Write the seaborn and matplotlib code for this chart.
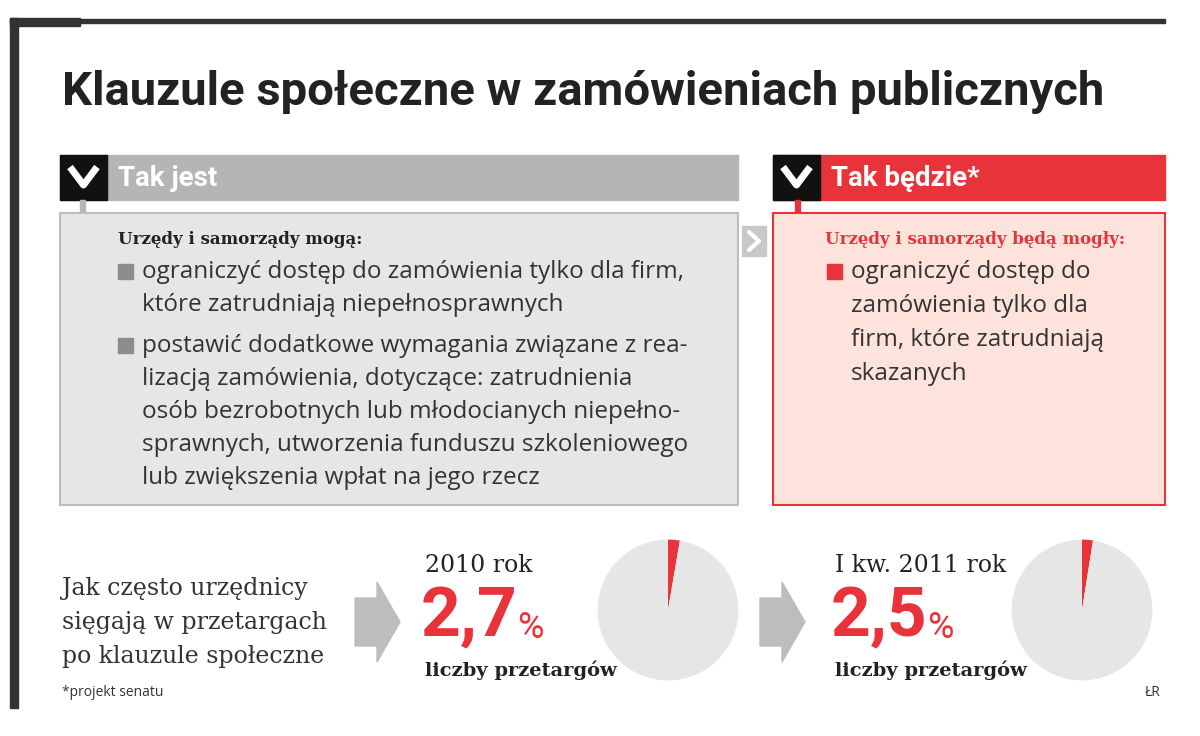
import matplotlib
matplotlib.use("Agg")
import matplotlib.pyplot as plt
import matplotlib.patches as mp
import seaborn as sns

sns.set_theme(style="white")

# data
title = "Klauzule społeczne w zamówieniach publicznych"
left_head = "Tak jest"
right_head = "Tak będzie*"
left_lead = "Urzędy i samorządy mogą:"
right_lead = "Urzędy i samorządy będą mogły:"
left_bullets = [
    ["ograniczyć dostęp do zamówienia tylko dla firm,",
     "które zatrudniają niepełnosprawnych"],
    ["postawić dodatkowe wymagania związane z rea-",
     "lizacją zamówienia, dotyczące: zatrudnienia",
     "osób bezrobotnych lub młodocianych niepełno-",
     "sprawnych, utworzenia funduszu szkoleniowego",
     "lub zwiększenia wpłat na jego rzecz"],
]
right_bullets = [["ograniczyć dostęp do", "zamówienia tylko dla",
                  "firm, które zatrudniają", "skazanych"]]
question = ["Jak często urzędnicy", "sięgają w przetargach", "po klauzule społeczne"]
periods = ["2010 rok", "I kw. 2011 rok"]
shares = [2.7, 2.5]
share_labels = ["2,7", "2,5"]

RED = "#e8333a"
GRAY = "#b5b5b5"
LIGHT = "#e6e6e6"
SANS = ["Liberation Sans Narrow", "Roboto", "DejaVu Sans"]
SERIF = ["DejaVu Serif", "Liberation Serif"]

fig = plt.figure(figsize=(12, 7.36), dpi=100)
ax = fig.add_axes([0, 0, 1, 1])
ax.set_xlim(0, 1200)
ax.set_ylim(736, 0)
ax.axis("off")

# frame
ax.add_patch(mp.Rectangle((10, 18), 8, 690, color="#333333"))
ax.add_patch(mp.Rectangle((10, 18), 70, 8, color="#333333"))
ax.add_patch(mp.Rectangle((10, 19), 1155, 4, color="#333333"))

ax.text(62, 92, title, fontsize=34, fontweight="bold", family=SANS,
        color="#222222", va="center")


def header(x0, x1, color, label):
    ax.add_patch(mp.Rectangle((x0, 155), x1 - x0, 45, color=color))
    ax.add_patch(mp.Rectangle((x0, 155), 47, 45, color="#111111"))
    ax.plot([x0 + 10, x0 + 23.5, x0 + 37], [167, 185, 167], color="white", lw=5,
            solid_capstyle="butt")
    ax.text(x0 + 58, 178, label, fontsize=20, fontweight="bold", color="white",
            family=SANS, va="center")


header(60, 738, GRAY, left_head)
header(773, 1165, RED, right_head)

ax.add_patch(mp.Rectangle((80, 200), 5, 13, color=GRAY))
ax.add_patch(mp.Rectangle((795, 200), 5, 13, color=RED))
ax.add_patch(mp.Rectangle((60, 213), 678, 292, facecolor=LIGHT, edgecolor="#bdbdbd", lw=1.5))
ax.add_patch(mp.Rectangle((773, 213), 392, 292, facecolor="#fde3dc", edgecolor=RED, lw=1.5))
ax.add_patch(mp.Rectangle((742, 226), 24, 30, color="#c8c8c8"))
ax.plot([749, 759, 749], [232, 241, 250], color="white", lw=3)

ax.text(118, 240, left_lead, fontsize=12, fontweight="bold", family=SERIF,
        color="#222222", va="center")
ax.text(825, 240, right_lead, fontsize=12, fontweight="bold", family=SERIF,
        color=RED, va="center")


def bullets(groups, x, y, sq_color, step):
    for g in groups:
        ax.add_patch(mp.Rectangle((x, y - 8), 15, 15, color=sq_color))
        for line in g:
            ax.text(x + 24, y, line, fontsize=17.5, family=["Open Sans", "DejaVu Sans"],
                    color="#333333", va="center")
            y += step
        y += 8


bullets(left_bullets, 118, 272, "#8c8c8c", 33)
bullets(right_bullets, 827, 272, RED, 34)

for i, line in enumerate(question):
    ax.text(62, 588 + i * 34, line, fontsize=17, family=SERIF, color="#333333", va="center")


def arrow(x):
    ax.add_patch(mp.Polygon([(x, 598), (x + 22, 598), (x + 22, 582), (x + 45, 622),
                             (x + 22, 662), (x + 22, 646), (x, 646)], color="#bdbdbd"))


for k, (px, cx) in enumerate([(425, 668), (835, 1082)]):
    arrow(355 if k == 0 else 760)
    ax.text(px, 565, periods[k], fontsize=17, family=SERIF, color="#222222", va="center")
    ax.text(px - 4, 618, share_labels[k], fontsize=50, fontweight="bold",
            family=SANS, color=RED, va="center")
    ax.text(px + 92, 628, "%", fontsize=26, family=SANS, color=RED, va="center")
    ax.text(px, 670, "liczby przetargów", fontsize=14, fontweight="bold",
            family=SERIF, color="#222222", va="center")
    s = 88
    pax = fig.add_axes([(cx - s) / 1200, 1 - (610 + s) / 736, 2 * s / 1200, 2 * s / 736])
    pax.pie([shares[k], 100 - shares[k]], colors=[RED, LIGHT], startangle=90,
            counterclock=False, wedgeprops=dict(linewidth=0))
    pax.set_aspect("equal")

ax.text(62, 692, "*projekt senatu", fontsize=10, family=["Open Sans", "DejaVu Sans"],
        color="#333333", va="center")
ax.text(1145, 692, "ŁR", fontsize=10, family=["Open Sans", "DejaVu Sans"],
        color="#333333", va="center")

fig.savefig("out.png", dpi=100)
